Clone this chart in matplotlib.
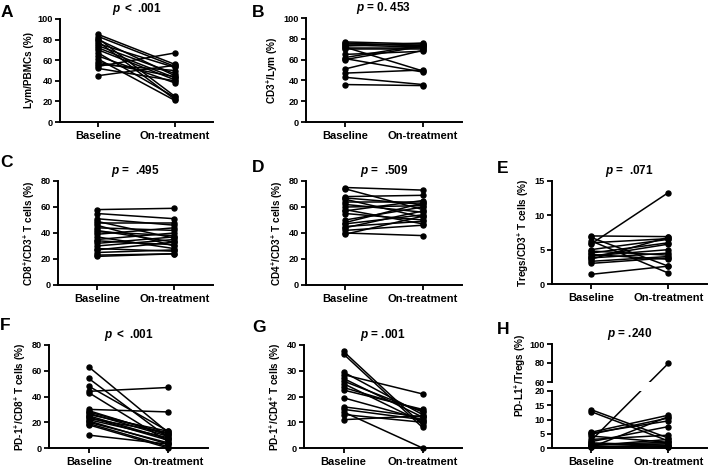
import matplotlib
matplotlib.use('Agg')
import matplotlib.pyplot as plt

plt.rcParams['font.family'] = ['Liberation Sans', 'DejaVu Sans']
plt.rcParams['font.weight'] = 'bold'
plt.rcParams['axes.labelweight'] = 'bold'
plt.rcParams['axes.titleweight'] = 'bold'
plt.rcParams['mathtext.fontset'] = 'custom'
plt.rcParams['mathtext.rm'] = 'Liberation Sans:bold'
plt.rcParams['mathtext.bf'] = 'Liberation Sans:bold'
plt.rcParams['mathtext.it'] = 'Liberation Sans:italic:bold'
plt.rcParams['mathtext.default'] = 'bf'

groups = ['Baseline', 'On-treatment']

# A  Lym/PBMCs
A_base = [85, 83, 81, 80, 78, 76, 74, 72, 70, 67, 64, 61, 58, 56, 54, 52, 45]
A_post = [56, 54, 25, 45, 22, 53, 47, 43, 41, 24, 38, 21, 44, 50, 67, 40, 55]
# B  CD3+/Lym
B_base = [77, 76, 75, 74, 73, 72, 71, 70, 65, 62, 61, 60, 51, 47, 43, 36]
B_post = [75, 73, 74, 72, 76, 49, 71, 70, 68, 74, 48, 73, 69, 50, 36, 35]
# C  CD8+/CD3+
C_base = [58, 55, 51, 49, 48, 46, 44, 42, 41, 39, 37, 35, 34, 32, 30, 28, 27, 25, 23, 22]
C_post = [59, 51, 46, 36, 48, 30, 42, 33, 38, 44, 28, 40, 31, 37, 35, 26, 33, 27, 24, 24]
# D  CD4+/CD3+
D_base = [75, 74, 68, 67, 66, 64, 62, 60, 58, 57, 55, 50, 48, 47, 45, 44, 42, 40, 39]
D_post = [73, 58, 69, 62, 52, 64, 56, 61, 47, 65, 50, 60, 63, 54, 49, 57, 46, 38, 53]
# E  Tregs/CD3+
E_base = [7.0, 6.8, 6.3, 6.0, 5.8, 5.0, 4.8, 4.5, 4.3, 4.1, 4.0, 3.8, 3.6, 3.3, 3.0, 1.4]
E_post = [6.9, 2.6, 1.6, 6.6, 13.3, 6.5, 4.2, 6.0, 3.6, 5.0, 5.8, 4.5, 6.8, 4.0, 3.8, 2.6]
# F  PD-1+/CD8+
F_base = [63, 54, 48, 44, 43, 30, 29, 28, 27, 26, 25, 24, 23, 22, 21, 20, 19, 18, 10]
F_post = [12, 8, 13, 47, 5, 28, 10, 11, 9, 13, 7, 6, 12, 8, 3, 4, 1, 0, 3]
# G  PD-1+/CD4+
G_base = [37.5, 36.5, 29.5, 28.5, 27, 26, 25, 23.5, 22.5, 19.5, 16, 15, 14, 13, 11]
G_post = [9, 8, 13, 21, 12, 14, 10, 14.5, 15, 11, 12, 11, 0, 10, 12.5]
# H  PD-L1+/Tregs
H_base = [13.5, 12.8, 5.5, 5.2, 4.8, 2.5, 3.0, 2.2, 1.8, 1.5, 1.2, 1.0, 0.8, 0.5, 0.3, 0.2, 4.2]
H_post = [3.5, 2.5, 11.5, 9.5, 10.5, 79.5, 4.5, 7.5, 1.0, 0.5, 2.0, 1.5, 3.0, 0.3, 0.8, 11.0, 2.0]

W, H = 709, 468
fig = plt.figure(figsize=(W / 100, H / 100), dpi=100)


def make_axes(left, top, right, bottom):
    return fig.add_axes([left / W, 1 - bottom / H, (right - left) / W, (bottom - top) / H])


def style_axes(ax, yticks, xaxis=True):
    ax.spines['top'].set_visible(False)
    ax.spines['right'].set_visible(False)
    ax.spines['left'].set_linewidth(1.4)
    ax.spines['bottom'].set_linewidth(1.4)
    ax.set_xlim(-0.5, 1.5)
    ax.set_ylim(yticks[0], yticks[-1])
    ax.set_yticks(yticks)
    ax.tick_params(axis='y', labelsize=6.6, width=1.3, length=3.5, pad=1.5)
    if xaxis:
        ax.set_xticks([0, 1])
        ax.set_xticklabels(groups)
        ax.tick_params(axis='x', labelsize=8, width=1.3, length=3.5, pad=3)
    else:
        ax.spines['bottom'].set_visible(False)
        ax.set_xticks([])
    for lab in ax.get_xticklabels() + ax.get_yticklabels():
        lab.set_fontweight('heavy')
    ax.set_autoscale_on(False)
    ax.patch.set_alpha(0)


def draw_pairs(ax, base, post):
    for b, o in zip(base, post):
        ax.plot([0, 1], [b, o], color='black', lw=1.1, marker='o', ms=3.6,
                clip_on=False, zorder=3)


def panel(letter, pos, data, yticks, ylabel, ptext, letter_xy):
    ax = make_axes(*pos)
    style_axes(ax, yticks)
    draw_pairs(ax, data[0], data[1])
    ax.set_ylabel(ylabel, fontsize=7.2, fontweight='heavy', labelpad=3)
    ax.set_title(ptext, fontsize=8.5, fontweight='heavy', pad=5)
    fig.text(letter_xy[0] / W, 1 - letter_xy[1] / H, letter, fontsize=12.5,
             fontweight='heavy', ha='left', va='top')
    return ax


panel('A', (60, 19, 213, 122), (A_base, A_post), [0, 20, 40, 60, 80, 100],
      'Lym/PBMCs (%)', r'$\mathit{p}$ $<$ .001', (1, 5))
panel('B', (306, 18, 462, 122), (B_base, B_post), [0, 20, 40, 60, 80, 100],
      r'CD3$^{+}$/Lym (%)', r'$\mathit{p}$ = 0. 453', (252, 5))
panel('C', (58, 181, 213, 285), (C_base, C_post), [0, 20, 40, 60, 80],
      r'CD8$^{+}$/CD3$^{+}$ T cells (%)', r'$\mathit{p}$ =  .495', (0, 155))
panel('D', (306, 181, 462, 285), (D_base, D_post), [0, 20, 40, 60, 80],
      r'CD4$^{+}$/CD3$^{+}$ T cells (%)', r'$\mathit{p}$ =  .509', (252, 160))
panel('E', (552, 181, 707, 284), (E_base, E_post), [0, 5, 10, 15],
      r'Tregs/CD3$^{+}$ T cells (%)', r'$\mathit{p}$ =  .071', (497, 161))
panel('F', (49, 345, 208, 448), (F_base, F_post), [0, 20, 40, 60, 80],
      r'PD-1$^{+}$/CD8$^{+}$ T cells (%)', r'$\mathit{p}$ $<$ .001', (0, 318))
panel('G', (304, 345, 462, 448), (G_base, G_post), [0, 10, 20, 30, 40],
      r'PD-1$^{+}$/CD4$^{+}$ T cells (%)', r'$\mathit{p}$ = .001', (252, 320))

# H : broken y axis
ax_up = make_axes(552, 344, 707, 382)
ax_lo = make_axes(552, 391, 707, 448)
style_axes(ax_up, [60, 80, 100], xaxis=False)
style_axes(ax_lo, [0, 5, 10, 15, 20])

for b, o in zip(H_base, H_post):
    if o <= 20:
        ax_lo.plot([0, 1], [b, o], color='black', lw=1.1, marker='o', ms=3.6,
                   clip_on=False, zorder=3)
    else:
        # straight line in display space across the break
        p0 = ax_lo.transData.transform((0, b))
        p1 = ax_up.transData.transform((1, o))
        for ax in (ax_lo, ax_up):
            q = ax.transData.inverted().transform([p0, p1])
            ax.plot(q[:, 0], q[:, 1], color='black', lw=1.1, zorder=3)
        ax_lo.plot(0, b, 'o', color='black', ms=3.6, clip_on=False, zorder=3)
        ax_up.plot(1, o, 'o', color='black', ms=3.6, clip_on=False, zorder=3)

ax_up.set_title(r'$\mathit{p}$ = .240', fontsize=8.5, fontweight='heavy', pad=5)
ax_lo.set_ylabel(r'PD-L1$^{+}$/Tregs (%)', fontsize=7.2, fontweight='heavy')
ax_lo.yaxis.set_label_coords(-0.155, 1.28)
fig.text(497 / W, 1 - 322 / H, 'H', fontsize=12.5, fontweight='heavy', ha='left', va='top')

fig.savefig('out.png', dpi=100)
